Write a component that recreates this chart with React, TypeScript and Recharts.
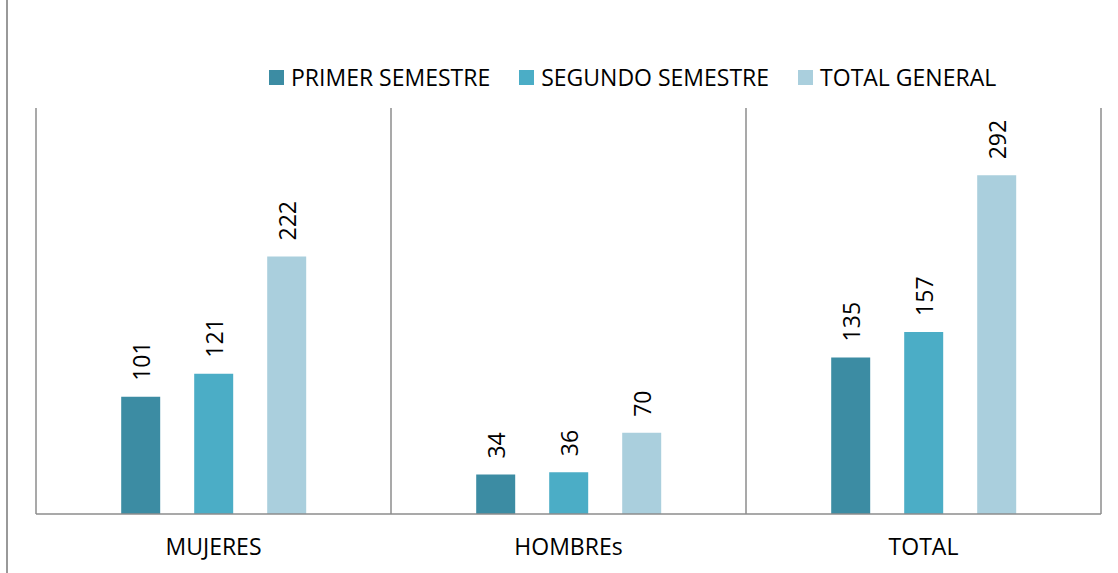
import React from "react";
import {
  BarChart,
  Bar,
  XAxis,
  YAxis,
  CartesianGrid,
  LabelList,
} from "recharts";

// Categories and series
const categories = ["MUJERES", "HOMBREs", "TOTAL"];
const primerSemestre = [101, 34, 135];
const segundoSemestre = [121, 36, 157];
const totalGeneral = [222, 70, 292];

const seriesNames = ["PRIMER SEMESTRE", "SEGUNDO SEMESTRE", "TOTAL GENERAL"];
const colors = ["#3C8CA3", "#4BADC6", "#AACFDD"];

const data = categories.map((name, i) => ({
  name,
  primer: primerSemestre[i],
  segundo: segundoSemestre[i],
  total: totalGeneral[i],
}));

const FONT = "'Open Sans', sans-serif";

const RotatedLabel = (props: any) => {
  const { x, y, width, value } = props;
  const cx = x + width / 2;
  const ty = y - 16;
  return (
    <text
      x={cx}
      y={ty}
      transform={`rotate(-90, ${cx}, ${ty})`}
      textAnchor="start"
      dominantBaseline="central"
      fontFamily={FONT}
      fontSize={23}
      fill="#000"
    >
      {value}
    </text>
  );
};

const App = () => {
  return (
    <div
      style={{
        position: "absolute",
        left: 0,
        top: 0,
        width: 1118,
        height: 573,
        background: "#fff",
        fontFamily: FONT,
      }}
    >
      {/* outer frame edge */}
      <div
        style={{
          position: "absolute",
          left: 6,
          top: 0,
          width: 0,
          height: 573,
          borderLeft: "2px solid #999",
        }}
      />
      {/* legend */}
      <div
        style={{
          position: "absolute",
          left: 269,
          top: 61,
          display: "flex",
          alignItems: "center",
          gap: 29,
          fontSize: 23,
          color: "#000",
          whiteSpace: "nowrap",
        }}
      >
        {seriesNames.map((s, i) => (
          <div key={s} style={{ display: "flex", alignItems: "center" }}>
            <span
              style={{
                display: "inline-block",
                width: 15,
                height: 15,
                background: colors[i],
                marginRight: 7,
              }}
            />
            <span>{s}</span>
          </div>
        ))}
      </div>
      <BarChart
        width={1118}
        height={573}
        data={data}
        margin={{ top: 108, right: 17, left: 36, bottom: 0 }}
        barCategoryGap="24%"
        barGap={34}
      >
        <CartesianGrid
          horizontal={false}
          stroke="#8c8c8c"
          strokeWidth={1.5}
          verticalCoordinatesGenerator={({ offset }: any) => {
            const step = offset.width / categories.length;
            return categories
              .map((_, i) => offset.left + step * i)
              .concat(offset.left + offset.width);
          }}
        />
        <XAxis
          dataKey="name"
          height={59}
          axisLine={{ stroke: "#8c8c8c", strokeWidth: 1.5 }}
          tickLine={false}
          tick={{ fill: "#000", fontSize: 23, fontFamily: FONT }}
          dy={17}
        />
        <YAxis hide domain={[0, 350]} />
        <Bar dataKey="primer" fill={colors[0]} isAnimationActive={false}>
          <LabelList dataKey="primer" content={RotatedLabel} />
        </Bar>
        <Bar dataKey="segundo" fill={colors[1]} isAnimationActive={false}>
          <LabelList dataKey="segundo" content={RotatedLabel} />
        </Bar>
        <Bar dataKey="total" fill={colors[2]} isAnimationActive={false}>
          <LabelList dataKey="total" content={RotatedLabel} />
        </Bar>
      </BarChart>
    </div>
  );
};

export default App;
